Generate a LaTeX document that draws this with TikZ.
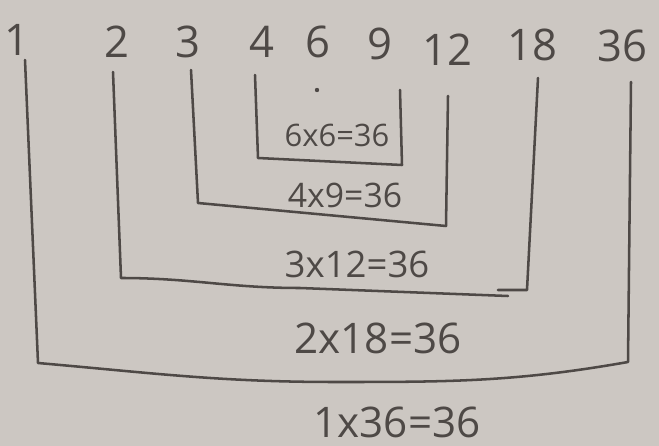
\documentclass[tikz,border=0pt]{standalone}
\usepackage{fontspec}
\setmainfont{Open Sans}
\definecolor{paper}{RGB}{204,199,194}
\definecolor{ink}{RGB}{78,73,70}
\tikzset{
	num/.style = {text=ink, font=\fontsize{31}{33}\selectfont, inner sep=0pt},
	prod/.style = {text=ink, inner sep=0pt},
	bracket/.style = {draw=ink, line width=1.8pt, line join=round, line cap=round}
}
\begin{document}
\begin{tikzpicture}[x=0.025cm, y=-0.025cm]
		\fill[paper] (0,0) rectangle (659,446);
		\useasboundingbox (0,0) rectangle (659,446);
		
		% divisors of 36
		\node[num] (n1) at (17,40) {1};
		\node[num] (n2) at (117,42) {2};
		\node[num] (n3) at (188,42) {3};
		\node[num] (n4) at (262,42) {4};
		\node[num] (n6) at (318,42) {6};
		\node[num] (n9) at (380,44) {9};
		\node[num] (n12) at (447,50) {12};
		\node[num] (n18) at (532,45) {18};
		\node[num] (n36) at (622,46) {36};
		
		% bracket corners
		\coordinate (a4) at (255,75);
		\coordinate (b4) at (258,158);
		\coordinate (c9) at (402,165);
		\coordinate (a9) at (400,90);
		
		\coordinate (a3) at (191,70);
		\coordinate (b3) at (198,203);
		\coordinate (c12) at (446,226);
		\coordinate (a12) at (448,96);
		
		\coordinate (a2) at (113,72);
		\coordinate (b2) at (121,278);
		\coordinate (m2) at (300,288);
		\coordinate (e2) at (508,296);
		\coordinate (a18) at (538,78);
		\coordinate (c18) at (527,290);
		\coordinate (d18) at (498,290);
		
		\coordinate (a1) at (25,60);
		\coordinate (b1) at (38,363);
		\coordinate (m1) at (336,382);
		\coordinate (c36) at (628,362);
		\coordinate (a36) at (631,82);
		
		% pairs
		\draw[bracket] (a4) -- (b4) -- (c9) -- (a9);
		\draw[bracket] (a3) -- (b3) -- (c12) -- (a12);
		\draw[bracket] (a2) -- (b2) to[out=0, in=180] (m2) -- (e2);
		\draw[bracket] (a18) -- (c18) -- (d18);
		\draw[bracket] (a1) -- (b1) to[out=-5, in=180] (m1) to[out=0, in=190] (c36) -- (a36);
		
		\fill[ink] (317,90) circle (2.2);
		
		% products
		\node[prod, font=\fontsize{22}{24}\selectfont] (p6) at (337,135) {6x6=36};
		\node[prod, font=\fontsize{24}{26}\selectfont] (p4) at (345,195) {4x9=36};
		\node[prod, font=\fontsize{26}{28}\selectfont] (p3) at (357,264) {3x12=36};
		\node[prod, font=\fontsize{30}{32}\selectfont] (p2) at (378,338) {2x18=36};
		\node[prod, font=\fontsize{30}{32}\selectfont] (p1) at (397,422) {1x36=36};
\end{tikzpicture}
\end{document}
